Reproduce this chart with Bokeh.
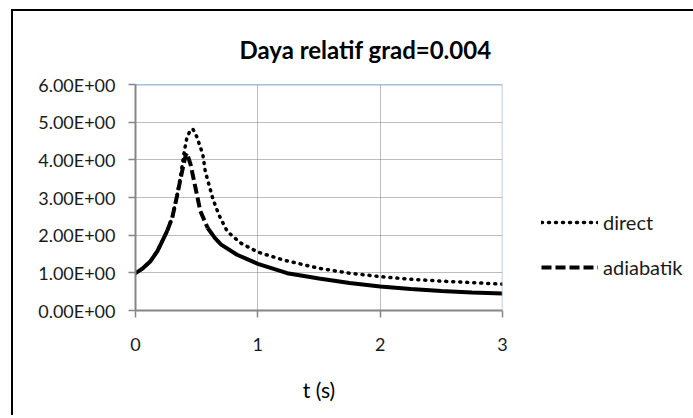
from bokeh.plotting import figure
from bokeh.models import Range1d, FixedTicker, Span, Legend, LegendItem
from bokeh.embed import file_html
from bokeh.resources import INLINE

FONT = "Lato"

title_text = "Daya relatif grad=0.004"
x_label = "t (s)"
x_ticks = [0, 1, 2, 3]
y_ticks = [0, 1, 2, 3, 4, 5, 6]
y_tick_labels = ["0.00E+00", "1.00E+00", "2.00E+00", "3.00E+00",
                 "4.00E+00", "5.00E+00", "6.00E+00"]
series_names = ["direct", "adiabatik"]

t_direct = [0.0, 0.06, 0.12, 0.18, 0.22, 0.26, 0.30, 0.34, 0.37, 0.40, 0.42,
            0.45, 0.47, 0.50, 0.55, 0.57, 0.63, 0.68, 0.75, 0.86, 1.0, 1.21,
            1.5, 1.75, 2.0, 2.25, 2.5, 2.75, 3.0]
p_direct = [0.99, 1.12, 1.30, 1.58, 1.85, 2.12, 2.46, 3.05, 3.60, 4.25, 4.58,
            4.80, 4.81, 4.62, 4.15, 3.70, 2.99, 2.55, 2.10, 1.79, 1.55, 1.34,
            1.12, 0.99, 0.90, 0.83, 0.78, 0.74, 0.70]

t_adiabatik = [0.0, 0.06, 0.12, 0.18, 0.22, 0.26, 0.30, 0.34, 0.38, 0.41, 0.42,
               0.45, 0.49, 0.53, 0.59, 0.65, 0.70, 0.83, 1.0, 1.24, 1.5, 1.75,
               2.0, 2.25, 2.5, 2.75, 3.0]
p_adiabatik = [0.99, 1.12, 1.30, 1.58, 1.85, 2.12, 2.46, 3.05, 3.68, 4.12, 4.18,
               3.88, 3.26, 2.64, 2.19, 1.92, 1.75, 1.48, 1.24, 0.99, 0.85, 0.73,
               0.64, 0.57, 0.52, 0.48, 0.45]

p = figure(frame_width=367, frame_height=226, x_range=Range1d(0, 3), y_range=Range1d(0, 6),
           output_backend="svg", toolbar_location=None, title=title_text,
           min_border_left=122, min_border_right=191, min_border_top=72,
           min_border_bottom=105)
p.margin = (9, 0, 0, 11)
p.styles = {"border-left": "2px solid black", "border-top": "2px solid black"}
p.outline_line_color = None
p.background_fill_color = "white"
p.border_fill_color = "white"

p.title.align = "left"
p.title.offset = 104
p.title.standoff = 42
p.title.text_font = FONT
p.title.text_font_style = "bold"
p.title.text_font_size = "24px"
p.title.text_color = "black"

p.xaxis.ticker = FixedTicker(ticks=x_ticks)
p.yaxis.ticker = FixedTicker(ticks=y_ticks)
p.yaxis.major_label_overrides = {k: v for k, v in zip(y_ticks, y_tick_labels)}
for ax in (p.xaxis[0], p.yaxis[0]):
    ax.minor_tick_line_color = None
    ax.major_tick_in = 0
    ax.major_tick_out = 7
    ax.axis_line_color = "#868686"
    ax.axis_line_width = 2
    ax.major_tick_line_color = "#868686"
    ax.major_tick_line_width = 1.5
    ax.major_label_text_font = FONT
    ax.major_label_text_font_size = "18px"
    ax.major_label_text_color = "#1a1a1a"
p.yaxis.major_label_standoff = 13
p.xaxis.major_label_standoff = 20
p.xaxis.axis_label = x_label
p.xaxis.axis_label_text_font = FONT
p.xaxis.axis_label_text_font_style = "normal"
p.xaxis.axis_label_text_font_size = "21px"
p.xaxis.axis_label_text_color = "black"
p.xaxis.axis_label_standoff = 23

for g in (p.xgrid[0], p.ygrid[0]):
    g.grid_line_color = "#7a7a7a"
    g.grid_line_dash = "1 1"
    g.grid_line_width = 1

r_direct = p.line(t_direct, p_direct, line_color="black", line_width=3.5,
                  line_dash="1 6", line_cap="round")

i_a = t_adiabatik.index(0.26)
i_b = t_adiabatik.index(0.59)
p.line(t_adiabatik[:i_a + 1], p_adiabatik[:i_a + 1], line_color="black", line_width=4)
r_adia = p.line(t_adiabatik[i_a:i_b + 1], p_adiabatik[i_a:i_b + 1], line_color="black",
                line_width=4, line_dash="10 4")
p.line(t_adiabatik[i_b:], p_adiabatik[i_b:], line_color="black", line_width=4)

p.add_layout(Span(location=6, dimension="width", line_color="#4a7ebb", line_width=1.5))
p.add_layout(Span(location=3, dimension="height", line_color="#a5bfdd", line_width=1.5))

legend = Legend(items=[LegendItem(label=series_names[0], renderers=[r_direct]),
                       LegendItem(label=series_names[1], renderers=[r_adia])],
                location=(39, 31), padding=0, margin=0, spacing=21,
                glyph_width=57, glyph_height=20, label_height=20,
                label_standoff=5, border_line_color=None,
                background_fill_alpha=0,
                label_text_font=FONT, label_text_font_size="20px",
                label_text_color="#1a1a1a")
p.add_layout(legend, "right")

open("out.html", "w").write(file_html(p, INLINE))
